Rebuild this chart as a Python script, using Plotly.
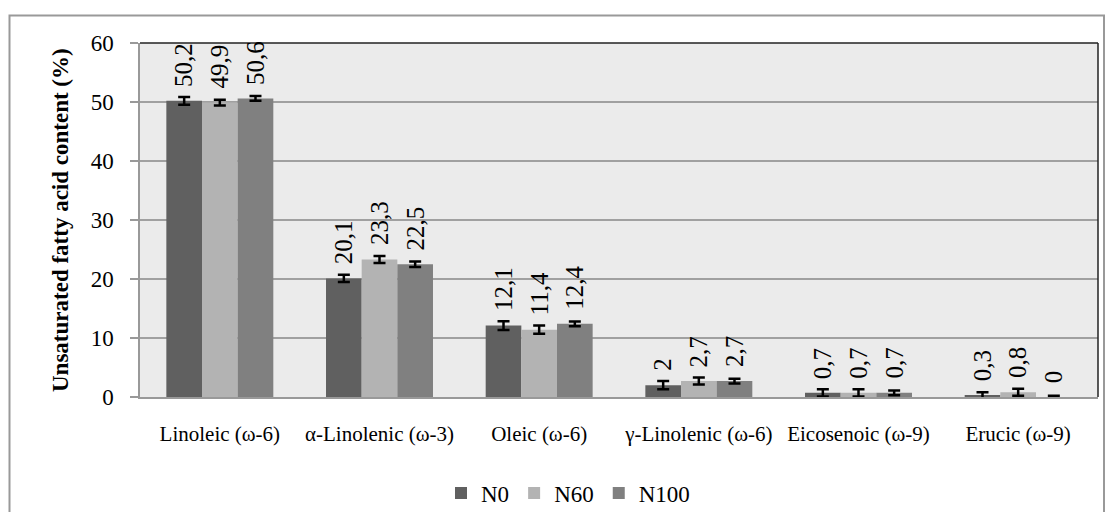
import plotly.graph_objects as go

categories = ["Linoleic (ω-6)", "α-Linolenic (ω-3)", "Oleic (ω-6)",
              "γ-Linolenic (ω-6)", "Eicosenoic (ω-9)", "Erucic (ω-9)"]
series_names = ["N0", "N60", "N100"]
n0 = [50.2, 20.1, 12.1, 2.0, 0.7, 0.3]
n60 = [49.9, 23.3, 11.4, 2.7, 0.7, 0.8]
n100 = [50.6, 22.5, 12.4, 2.7, 0.7, 0.0]
n0_err = [0.65, 0.6, 0.75, 0.7, 0.6, 0.5]
n60_err = [0.5, 0.6, 0.7, 0.6, 0.6, 0.6]
n100_err = [0.4, 0.45, 0.4, 0.4, 0.4, 0.2]
labels_n0 = ["50,2", "20,1", "12,1", "2", "0,7", "0,3"]
labels_n60 = ["49,9", "23,3", "11,4", "2,7", "0,7", "0,8"]
labels_n100 = ["50,6", "22,5", "12,4", "2,7", "0,7", "0"]
y_ticks = [0, 10, 20, 30, 40, 50, 60]

colors = ["#606060", "#b3b3b3", "#808080"]
values = [n0, n60, n100]
errors = [n0_err, n60_err, n100_err]
labels = [labels_n0, labels_n60, labels_n100]

FONT = '"Liberation Serif", "Times New Roman", serif'
# page has an 8px body margin; figure sized to fill 1113x520 viewport exactly
W, H = 1097, 504
OFF = 8
L, T = 140 - OFF, 43 - OFF
R = W - (1098 - OFF)
B = H - (397 - OFF)
pw = W - L - R
ph = H - T - B


def px_to_paper_x(px):
    return (px - OFF - L) / pw


def px_to_paper_y(py):
    return (H - B - (py - OFF)) / ph


fig = go.Figure()
for name, vals, errs, col in zip(series_names, values, errors, colors):
    fig.add_trace(go.Bar(
        name=name, x=categories, y=vals, marker=dict(color=col, line=dict(width=0)),
        error_y=dict(type="data", array=errs, visible=True, color="#000000",
                     thickness=2.5, width=6),
    ))

bargap = 0.33
bw = (1 - bargap) / 3
annotations = []
for j, (vals, labs) in enumerate(zip(values, labels)):
    off = (j - 1) * bw
    for i, (v, lab) in enumerate(zip(vals, labs)):
        annotations.append(dict(
            x=i + off, y=v, xref="x", yref="y", text=lab, showarrow=False,
            textangle=-90, yanchor="bottom", xanchor="center", yshift=12,
            font=dict(family=FONT, size=25, color="#000000"),
        ))

annotations.append(dict(
    x=px_to_paper_x(60), y=0.5, xref="paper", yref="paper",
    text="<b>Unsaturated fatty acid content (%)</b>", showarrow=False,
    textangle=-90, xanchor="center", yanchor="middle",
    font=dict(family=FONT, size=23, color="#000000"),
))

shapes = [
    dict(type="rect", xref="paper", yref="paper",
         x0=px_to_paper_x(9.5), x1=px_to_paper_x(1104),
         y0=px_to_paper_y(540), y1=px_to_paper_y(15.5),
         line=dict(color="#999999", width=2), fillcolor="rgba(0,0,0,0)", layer="below"),
    dict(type="line", xref="paper", yref="paper", x0=0, x1=1, y0=1, y1=1,
         line=dict(color="#222222", width=1.5)),
    dict(type="line", xref="paper", yref="paper", x0=1, x1=1, y0=0, y1=1,
         line=dict(color="#222222", width=1.5)),
]

fig.update_layout(
    width=W, height=H,
    margin=dict(l=L, r=R, t=T, b=B, pad=0, autoexpand=False),
    paper_bgcolor="#ffffff", plot_bgcolor="#ebebeb",
    barmode="group", bargap=bargap, bargroupgap=0,
    font=dict(family=FONT, color="#000000"),
    showlegend=True,
    legend=dict(orientation="h", x=px_to_paper_x(568), xanchor="center",
                y=px_to_paper_y(493), yanchor="middle",
                font=dict(family=FONT, size=23, color="#000000"),
                itemwidth=30, traceorder="normal", bgcolor="rgba(0,0,0,0)"),
    annotations=annotations,
    shapes=shapes,
    xaxis=dict(showgrid=False, showline=True, linecolor="#999999", linewidth=1.5,
               ticks="", tickfont=dict(family=FONT, size=21, color="#000000"),
               ticklabelstandoff=17, zeroline=False),
    yaxis=dict(range=[0, 60], tickvals=y_ticks, showgrid=True, gridcolor="#a0a0a0",
               gridwidth=1.5, showline=True, linecolor="#999999", linewidth=1.5,
               ticks="outside", ticklen=8, tickcolor="#999999", tickwidth=1.5,
               tickfont=dict(family=FONT, size=23, color="#000000"),
               ticklabelstandoff=12, zeroline=False),
)

fig.write_html("out.html")
